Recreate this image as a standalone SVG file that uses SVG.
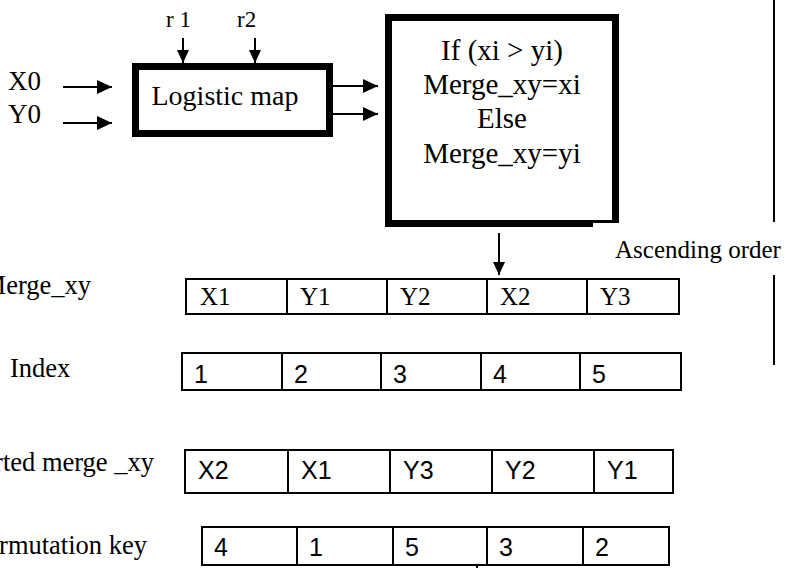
<svg xmlns="http://www.w3.org/2000/svg" width="792" height="568" viewBox="0 0 792 568">
<defs>
<marker id="ah" markerUnits="userSpaceOnUse" markerWidth="16" markerHeight="16" viewBox="0 0 16 16" refX="15" refY="7" orient="auto">
<path d="M0,0 L15,7 L0,14 Z" fill="#000"/>
</marker>
<marker id="ahs" markerUnits="userSpaceOnUse" markerWidth="14" markerHeight="14" viewBox="0 0 14 14" refX="13" refY="6" orient="auto">
<path d="M0,0 L13,6 L0,12 Z" fill="#000"/>
</marker>
</defs>
<style>
.t{font-family:"Liberation Serif","Times New Roman",serif;fill:#000}
.s{font-family:"Liberation Sans",Arial,sans-serif;fill:#000;font-size:25px}
.big{font-size:27px}
.mb{font-size:29px}
.lab{font-size:26.5px}
.cv{font-size:25px}
.cell{fill:#fff;stroke:#000;stroke-width:2}
.thick{fill:#fff;stroke:#000;stroke-width:7}
.ln{stroke:#000;stroke-width:2;fill:none}
</style>
<rect width="792" height="568" fill="#fff"/>

<g id="connectors">
<line class="ln" x1="63" y1="87" x2="112" y2="87" marker-end="url(#ah)"/>
<line class="ln" x1="63" y1="123" x2="112" y2="123" marker-end="url(#ah)"/>
<line class="ln" x1="183" y1="38" x2="183" y2="63" marker-end="url(#ahs)"/>
<line class="ln" x1="255" y1="38" x2="255" y2="63" marker-end="url(#ahs)"/>
<line class="ln" x1="333" y1="86" x2="378" y2="86" marker-end="url(#ah)"/>
<line class="ln" x1="333" y1="114" x2="378" y2="114" marker-end="url(#ah)"/>
<line class="ln" x1="499" y1="233" x2="499" y2="275" marker-end="url(#ahs)"/>
<line class="ln" x1="774" y1="0" x2="774" y2="222"/>
<line class="ln" x1="774" y1="275" x2="774" y2="365"/>
<line class="ln" x1="477" y1="542" x2="477" y2="568"/>
</g>

<g id="inputs">
<text class="t big" x="8" y="90">X0</text>
<text class="t big" x="8" y="123">Y0</text>
<text class="t" font-size="23" x="166" y="27">r 1</text>
<text class="t" font-size="23" x="237" y="27">r2</text>
</g>

<g id="logistic">
<rect class="thick" x="135.5" y="66.5" width="194" height="67"/>
<text class="t" font-size="28" x="225" y="105" text-anchor="middle">Logistic map</text>
</g>

<g id="merge">
<rect class="thick" x="388.5" y="17.5" width="227" height="206"/>
<rect x="593" y="223" width="28" height="6" fill="#fff"/>
<g class="t mb" text-anchor="middle">
<text x="502" y="60">If (xi &gt; yi)</text>
<text x="502" y="94">Merge_xy=xi</text>
<text x="502" y="128">Else</text>
<text x="502" y="163">Merge_xy=yi</text>
</g>
</g>

<g id="ascending">
<text class="t" font-size="25" x="615" y="258">Ascending order</text>
</g>

<g id="merge-row">
<text class="t lab" x="91" y="294" text-anchor="end">Merge_xy</text>
<rect class="cell" x="186" y="279" width="101" height="35"/>
<rect class="cell" x="287" y="279" width="100" height="35"/>
<rect class="cell" x="387" y="279" width="100" height="35"/>
<rect class="cell" x="487" y="279" width="100" height="35"/>
<rect class="cell" x="587" y="279" width="92" height="35"/>
<g class="t cv">
<text x="200" y="305">X1</text>
<text x="300" y="305">Y1</text>
<text x="400" y="305">Y2</text>
<text x="500" y="305">X2</text>
<text x="600" y="305">Y3</text>
</g>
</g>

<g id="index-row">
<text class="t lab" x="10" y="377">Index</text>
<rect class="cell" x="182" y="353" width="100" height="37"/>
<rect class="cell" x="282" y="353" width="99" height="37"/>
<rect class="cell" x="381" y="353" width="100" height="37"/>
<rect class="cell" x="481" y="353" width="99" height="37"/>
<rect class="cell" x="580" y="353" width="101" height="37"/>
<g class="s">
<text x="194" y="383">1</text>
<text x="294" y="383">2</text>
<text x="393" y="383">3</text>
<text x="493" y="383">4</text>
<text x="592" y="383">5</text>
</g>
</g>

<g id="sorted-row">
<text class="t lab" x="154" y="471" text-anchor="end">Sorted merge _xy</text>
<rect class="cell" x="185" y="450" width="103" height="43"/>
<rect class="cell" x="288" y="450" width="102" height="43"/>
<rect class="cell" x="390" y="450" width="102" height="43"/>
<rect class="cell" x="492" y="450" width="102" height="43"/>
<rect class="cell" x="594" y="450" width="79" height="43"/>
<g class="s">
<text x="198" y="479">X2</text>
<text x="301" y="479">X1</text>
<text x="403" y="479">Y3</text>
<text x="505" y="479">Y2</text>
<text x="607" y="479">Y1</text>
</g>
</g>

<g id="perm-row">
<text class="t lab" x="147" y="554" text-anchor="end">Permutation key</text>
<rect class="cell" x="202" y="527" width="95" height="38"/>
<rect class="cell" x="297" y="527" width="96" height="38"/>
<rect class="cell" x="393" y="527" width="94" height="38"/>
<rect class="cell" x="487" y="527" width="96" height="38"/>
<rect class="cell" x="583" y="527" width="86" height="38"/>
<g class="s">
<text x="214" y="556">4</text>
<text x="309" y="556">1</text>
<text x="405" y="556">5</text>
<text x="499" y="556">3</text>
<text x="595" y="556">2</text>
</g>
</g>
</svg>
